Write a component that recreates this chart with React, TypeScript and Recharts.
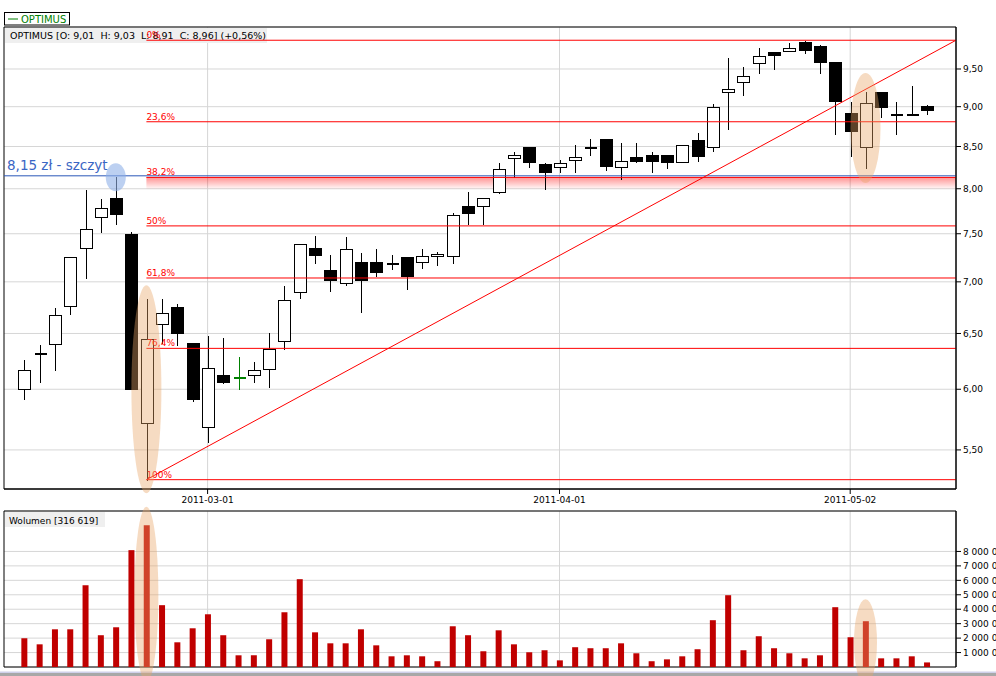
import {
  Bar,
  CartesianGrid,
  ComposedChart,
  ReferenceArea,
  ReferenceDot,
  ReferenceLine,
  XAxis,
  YAxis,
} from "recharts";

// sessions, 2011-02-11 .. 2011-05-10
const dates = [
  "2011-02-11", "2011-02-14", "2011-02-15", "2011-02-16", "2011-02-17", "2011-02-18",
  "2011-02-21", "2011-02-22", "2011-02-23", "2011-02-24", "2011-02-25", "2011-02-28",
  "2011-03-01", "2011-03-02", "2011-03-03", "2011-03-04", "2011-03-07", "2011-03-08",
  "2011-03-09", "2011-03-10", "2011-03-11", "2011-03-14", "2011-03-15", "2011-03-16",
  "2011-03-17", "2011-03-18", "2011-03-21", "2011-03-22", "2011-03-23", "2011-03-24",
  "2011-03-25", "2011-03-28", "2011-03-29", "2011-03-30", "2011-03-31", "2011-04-01",
  "2011-04-04", "2011-04-05", "2011-04-06", "2011-04-07", "2011-04-08", "2011-04-11",
  "2011-04-12", "2011-04-13", "2011-04-14", "2011-04-15", "2011-04-18", "2011-04-19",
  "2011-04-20", "2011-04-21", "2011-04-26", "2011-04-27", "2011-04-28", "2011-04-29",
  "2011-05-02", "2011-05-04", "2011-05-05", "2011-05-06", "2011-05-09", "2011-05-10",
];

const opens = [
  6.0, 6.32, 6.4, 6.76, 7.35, 7.68, 7.9, 7.5, 5.72, 6.59, 6.75, 6.41,
  5.68, 6.12, 6.11, 6.12, 6.18, 6.43, 6.9, 7.35, 7.12, 6.99, 7.2, 7.2,
  7.19, 7.25, 7.2, 7.26, 7.26, 7.8, 7.81, 7.96, 8.36, 8.49, 8.29, 8.25,
  8.34, 8.49, 8.59, 8.25, 8.37, 8.4, 8.4, 8.31, 8.58, 8.49, 9.19, 9.32,
  9.58, 9.73, 9.75, 9.88, 9.82, 9.59, 8.92, 8.49, 9.19, 8.91, 8.91, 9.01,
];
const highs = [
  6.27, 6.4, 6.75, 7.26, 8.0, 7.9, 8.15, 7.53, 6.84, 6.84, 6.79, 6.42,
  6.49, 6.47, 6.29, 6.25, 6.51, 6.97, 7.4, 7.49, 7.28, 7.48, 7.31, 7.35,
  7.28, 7.26, 7.35, 7.32, 7.74, 7.98, 7.91, 8.31, 8.45, 8.5, 8.31, 8.35,
  8.53, 8.61, 8.61, 8.56, 8.56, 8.44, 8.41, 8.52, 8.68, 9.05, 9.66, 9.54,
  9.8, 9.74, 9.88, 9.9, 9.85, 9.6, 9.08, 9.2, 9.2, 9.08, 9.28, 9.03,
];
const lows = [
  5.92, 6.06, 6.17, 6.68, 7.04, 7.52, 7.61, 6.0, 5.27, 6.41, 6.39, 5.9,
  5.56, 6.05, 6.0, 6.06, 6.02, 6.36, 6.84, 7.19, 6.91, 6.97, 6.7, 7.06,
  7.13, 6.93, 7.14, 7.17, 7.19, 7.61, 7.61, 7.95, 8.14, 8.25, 8.0, 8.19,
  8.19, 8.4, 8.22, 8.11, 8.31, 8.19, 8.24, 8.31, 8.32, 8.45, 8.72, 9.15,
  9.45, 9.5, 9.75, 9.72, 9.45, 8.65, 8.39, 8.24, 8.87, 8.65, 8.91, 8.91,
];
const closes = [
  6.17, 6.32, 6.67, 7.25, 7.55, 7.78, 7.71, 6.0, 6.45, 6.69, 6.5, 5.92,
  6.19, 6.06, 6.11, 6.17, 6.36, 6.82, 7.39, 7.27, 7.02, 7.34, 7.02, 7.1,
  7.19, 7.06, 7.26, 7.29, 7.7, 7.73, 7.89, 8.23, 8.4, 8.31, 8.19, 8.3,
  8.37, 8.49, 8.27, 8.32, 8.32, 8.32, 8.31, 8.52, 8.38, 9.0, 9.23, 9.41,
  9.68, 9.69, 9.79, 9.76, 9.6, 9.08, 8.69, 9.05, 8.99, 8.91, 8.91, 8.96,
];
const volumes = [
  1990000, 1570000, 2610000, 2610000, 5660000, 2200000, 2750000, 8090000, 9820000, 4280000,
  1710000, 2680000, 3650000, 2200000, 810000, 810000, 1920000, 3790000, 6080000, 2400000,
  1640000, 1640000, 2610000, 1500000, 740000, 810000, 740000, 400000, 2820000, 2200000,
  1090000, 2540000, 1570000, 1020000, 1160000, 460000, 1370000, 1300000, 1300000, 1640000,
  950000, 400000, 530000, 740000, 1230000, 3240000, 4970000, 1160000, 2130000, 1300000,
  950000, 600000, 810000, 4140000, 2060000, 3170000, 600000, 600000, 740000, 316619,
];

const priceTicks = [5.5, 6, 6.5, 7, 7.5, 8, 8.5, 9, 9.5];
const volumeTicks = [1000000, 2000000, 3000000, 4000000, 5000000, 6000000, 7000000, 8000000];
const dateTicks = [12, 35, 54];
const fibRatios = [0, 0.236, 0.382, 0.5, 0.618, 0.764, 1];
const fibLabels = ["0%", "23,6%", "38,2%", "50%", "61,8%", "76,4%", "100%"];
const peakPrice = 8.15;
const peakIndex = 6;
const bandBottom = 7.99;

const X_MIN = -1.307;
const X_MAX = 60.915;
const P_MIN = 5.2;
const P_MAX = 10.09;
const V_MAX = 10800000;

const FONT = '"DejaVu Sans", Verdana, sans-serif';
const GRID = "#d6d6d6";
const FIB_RED = "#ff0000";
const HILITE = "#e9a566";

const rows = dates.map((date, i) => ({
  i,
  date,
  open: opens[i],
  high: highs[i],
  low: lows[i],
  close: closes[i],
  range: [lows[i], highs[i]],
  vol: volumes[i],
}));

const lowIdx = lows.indexOf(Math.min(...lows));
const highIdx = highs.indexOf(Math.max(...highs));
const swingLow = lows[lowIdx];
const swingHigh = highs[highIdx];
const fibLevels = fibRatios.map((r) => swingHigh - r * (swingHigh - swingLow));

const fmtPrice = (v: number) => v.toFixed(2).replace(".", ",");
// nbsp so the tick text is not wrapped
const fmtVol = (v: number) => String(v).replace(/\B(?=(\d{3})+(?!\d))/g, "\u00a0");

function Candle(props: any) {
  const { x, y, width, height, payload } = props;
  if (x == null || y == null) return null;
  const { open, high, low, close, date } = payload;
  const cx = Math.round(x + width / 2) + 0.5;
  const lh = Math.log(high);
  const ll = Math.log(low);
  const py = (v: number) => Math.round(y + (height * (lh - Math.log(v))) / (lh - ll || 1)) + 0.5;
  const top = py(Math.max(open, close));
  const bot = py(Math.min(open, close));
  if (Math.abs(open - close) < 0.005) {
    const c = date === "2011-03-03" ? "#008000" : "#000";
    return (
      <g shapeRendering="crispEdges">
        <line x1={cx} x2={cx} y1={py(high)} y2={py(low)} stroke={c} />
        <line x1={cx - 6} x2={cx + 6} y1={top} y2={top} stroke={c} strokeWidth={2} />
      </g>
    );
  }
  const up = close > open;
  return (
    <g shapeRendering="crispEdges">
      <line x1={cx} x2={cx} y1={py(high)} y2={py(low)} stroke="#000" />
      <rect
        x={cx - 6}
        y={top}
        width={12}
        height={Math.max(bot - top, 1)}
        fill={up ? "#fff" : "#000"}
        stroke="#000"
      />
    </g>
  );
}

const ellipse = (rx: number, ry: number, fill: string, op: number) => (p: any) =>
  <ellipse cx={p.cx} cy={p.cy} rx={rx} ry={ry} fill={fill} fillOpacity={op} />;

function PriceChart() {
  return (
    <ComposedChart
      width={996}
      height={510}
      data={rows}
      margin={{ top: 27, right: 0, bottom: 0, left: 4 }}
    >
      <defs>
        <linearGradient id="zone" x1="0" y1="0" x2="0" y2="1">
          <stop offset="0%" stopColor="#ff0000" stopOpacity={0.42} />
          <stop offset="100%" stopColor="#ff0000" stopOpacity={0} />
        </linearGradient>
      </defs>
      <CartesianGrid stroke={GRID} verticalValues={dateTicks} />
      <XAxis
        type="number"
        dataKey="i"
        domain={[X_MIN, X_MAX]}
        allowDataOverflow
        ticks={dateTicks}
        interval={0}
        tickFormatter={(v) => dates[v]}
        height={21}
        tickSize={5}
        tickMargin={3}
        stroke="#000"
        tick={{ fontSize: 9, fill: "#000", fontFamily: FONT }}
      />
      <YAxis
        orientation="right"
        scale="log"
        domain={[P_MIN, P_MAX]}
        allowDataOverflow
        ticks={priceTicks}
        interval={0}
        tickFormatter={fmtPrice}
        width={40}
        tickSize={5}
        tickMargin={2}
        stroke="#000"
        tick={{ fontSize: 9, fill: "#000", fontFamily: FONT, textAnchor: "start" }}
      />
      <g>
        <rect x={5} y={28} width={262} height={15} fill="#efefef" />
        <text x={10} y={39} fontSize={9.5} fontFamily={FONT} fill="#000" style={{ whiteSpace: "pre" }}>
          {"OPTIMUS [O: 9,01  H: 9,03  L: 8,91  C: 8,96] (+0,56%)"}
        </text>
        <rect x={4.5} y={12.5} width={65} height={12.5} fill="#fff" stroke="#000" />
        <line x1={8} x2={18} y1={19} y2={19} stroke="#008000" />
        <text x={21} y={23} fontSize={10} fontFamily={FONT} fill="#008000">
          OPTIMUS
        </text>
      </g>
      <Bar dataKey="range" barSize={12} shape={Candle} isAnimationActive={false} />
      <ReferenceDot x={lowIdx} y={6.0} r={15} ifOverflow="visible" shape={ellipse(15, 104, HILITE, 0.4)} />
      <ReferenceDot x={55} y={8.73} r={15} ifOverflow="visible" shape={ellipse(15, 55, HILITE, 0.4)} />
      <ReferenceDot x={peakIndex} y={peakPrice} r={10} ifOverflow="visible" shape={(p: any) => (
        <ellipse cx={p.cx} cy={p.cy + 1.5} rx={10} ry={14} fill="#8fb0e8" fillOpacity={0.6} />
      )} />
      <ReferenceArea
        x1={lowIdx}
        x2={X_MAX}
        y1={bandBottom}
        y2={fibLevels[2]}
        fill="url(#zone)"
        fillOpacity={1}
        stroke="none"
        ifOverflow="visible"
      />
      <ReferenceLine
        y={peakPrice}
        stroke="#2a56b8"
        ifOverflow="visible"
        label={(p: any) => (
          <text x={p.viewBox.x + 3} y={p.viewBox.y - 6} fontSize={13.5} fontFamily={FONT} fill="#3a66c4">
            8,15 zł - szczyt
          </text>
        )}
      />
      {fibLevels.map((lv, k) => (
        <ReferenceLine
          key={fibLabels[k]}
          segment={[{ x: lowIdx, y: lv }, { x: X_MAX, y: lv }]}
          stroke={FIB_RED}
          ifOverflow="visible"
          label={(p: any) => (
            <text x={p.viewBox.x} y={p.viewBox.y - 2} fontSize={9} fontFamily={FONT} fill={FIB_RED}>
              {fibLabels[k]}
            </text>
          )}
        />
      ))}
      <ReferenceLine
        segment={[{ x: lowIdx, y: swingLow }, { x: X_MAX, y: swingHigh }]}
        stroke={FIB_RED}
        ifOverflow="visible"
      />
      <ReferenceArea
        x1={X_MIN}
        x2={X_MAX}
        y1={P_MIN}
        y2={P_MAX}
        fill="none"
        stroke="#000"
        ifOverflow="visible"
      />
    </ComposedChart>
  );
}

function VolumeChart() {
  return (
    <ComposedChart
      width={996}
      height={171}
      data={rows}
      margin={{ top: 6, right: 0, bottom: 9, left: 4 }}
    >
      <CartesianGrid stroke={GRID} verticalValues={dateTicks} />
      <XAxis type="number" dataKey="i" domain={[X_MIN, X_MAX]} allowDataOverflow hide />
      <YAxis
        orientation="right"
        domain={[0, V_MAX]}
        allowDataOverflow
        ticks={volumeTicks}
        interval={0}
        tickFormatter={fmtVol}
        width={40}
        tickSize={5}
        tickMargin={2}
        stroke="#000"
        tick={{ fontSize: 9, fill: "#000", fontFamily: FONT, textAnchor: "start" }}
      />
      <Bar dataKey="vol" barSize={6} fill="#c00000" isAnimationActive={false} />
      <ReferenceDot x={lowIdx} y={5000000} r={12} ifOverflow="visible" shape={ellipse(12, 88, HILITE, 0.4)} />
      <ReferenceDot x={55} y={1710000} r={12} ifOverflow="visible" shape={ellipse(11.5, 43, HILITE, 0.4)} />
      <ReferenceArea
        x1={X_MIN}
        x2={X_MAX}
        y1={0}
        y2={V_MAX}
        fill="none"
        stroke="#000"
        ifOverflow="visible"
      />
      <g>
        <rect x={5} y={7} width={100} height={15} fill="#efefef" />
        <text x={9} y={18.5} fontSize={9} fontFamily={FONT} fill="#000">
          Wolumen [316 619]
        </text>
        <rect x={0} y={166.5} width={996} height={1.5} fill="#cfd0ea" />
        <rect x={0} y={168} width={996} height={3} fill="#a8a8a8" />
      </g>
    </ComposedChart>
  );
}

export default function App() {
  return (
    <div style={{ position: "absolute", left: 0, top: 0, width: 996, height: 676, background: "#fff", overflow: "hidden" }}>
      <div style={{ position: "absolute", left: 0, top: 0 }}>
        <PriceChart />
      </div>
      <div style={{ position: "absolute", left: 0, top: 505 }}>
        <VolumeChart />
      </div>
    </div>
  );
}
